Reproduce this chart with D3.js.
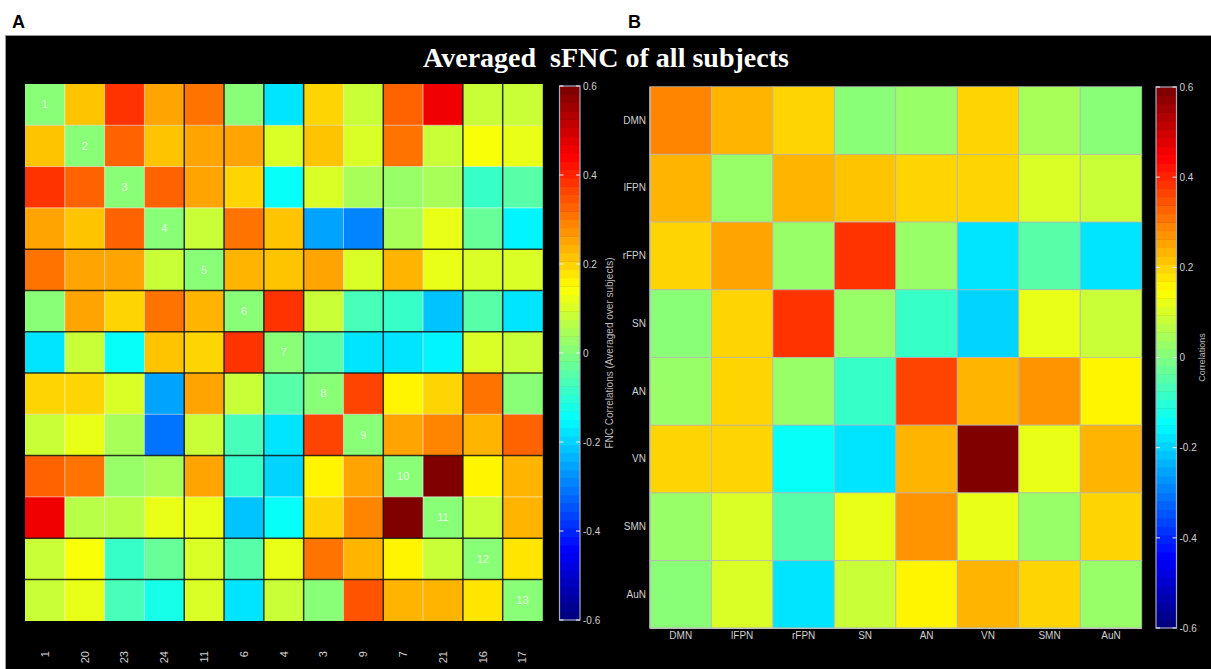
<!DOCTYPE html>
<html>
<head>
<meta charset="utf-8">
<script src="https://cdn.jsdelivr.net/npm/d3@7"></script>
<style>
  html, body { margin: 0; padding: 0; background: #fff; }
  svg { display: block; }
</style>
</head>
<body>
<svg id="chart" width="1211" height="669"></svg>
<script>
// ---------------- DATA ----------------
const componentLabels = ["1","20","23","24","11","6","4","3","9","7","21","16","17"];
// network index of each component (DMN, lFPN, rFPN, SN, AN, VN, SMN, AuN)
const componentNetwork = [0,0,0,0,1,2,3,4,4,5,5,6,7];
const diagLabels = ["1","2","3","4","5","6","7","8","9","10","11","12","13"];

const componentFNC = [
  [0.01, 0.22, 0.39, 0.26, 0.30, 0.01,-0.18, 0.20, 0.08, 0.32, 0.45, 0.075, 0.075],
  [0.22, 0.01, 0.32, 0.22, 0.26, 0.26, 0.10, 0.21, 0.11, 0.31, 0.075, 0.15, 0.12],
  [0.39, 0.32, 0.01, 0.32, 0.26, 0.20,-0.15, 0.11, 0.05, 0.03, 0.05,-0.075,-0.04],
  [0.26, 0.22, 0.32, 0.01, 0.075, 0.31, 0.21,-0.25,-0.29, 0.05, 0.12,-0.02,-0.16],
  [0.31, 0.26, 0.26, 0.075, 0.01, 0.24, 0.21, 0.26, 0.10, 0.24, 0.12, 0.10, 0.10],
  [0.01, 0.26, 0.20, 0.31, 0.24, 0.01, 0.39, 0.09,-0.06,-0.09,-0.22,-0.04,-0.17],
  [-0.17, 0.09,-0.15, 0.21, 0.20, 0.39, 0.01,-0.05,-0.17,-0.18,-0.16, 0.11, 0.075],
  [0.19, 0.19, 0.11,-0.25, 0.26, 0.09,-0.04, 0.01, 0.37, 0.16, 0.19, 0.30, 0.00],
  [0.09, 0.12, 0.04,-0.30, 0.09,-0.06,-0.17, 0.37, 0.01, 0.26, 0.29, 0.24, 0.33],
  [0.33, 0.31, 0.03, 0.05, 0.25,-0.09,-0.19, 0.16, 0.26, 0.01, 0.60, 0.16, 0.23],
  [0.45, 0.06, 0.06, 0.12, 0.13,-0.21,-0.15, 0.19, 0.29, 0.60, 0.01, 0.075, 0.23],
  [0.075, 0.15,-0.075,-0.02, 0.11,-0.04, 0.13, 0.31, 0.24, 0.16, 0.075, 0.01, 0.18],
  [0.075, 0.12,-0.06,-0.13, 0.10,-0.17, 0.075, 0.00, 0.34, 0.23, 0.23, 0.18, 0.01]
];

const networkLabels = ["DMN","lFPN","rFPN","SN","AN","VN","SMN","AuN"];
const networkFNC = [
  [0.29, 0.23, 0.19, 0.00, 0.03, 0.19, 0.04, 0.01],
  [0.24, 0.02, 0.24, 0.22, 0.20, 0.20, 0.11, 0.09],
  [0.19, 0.25, 0.02, 0.39, 0.02,-0.17,-0.04,-0.17],
  [0.00, 0.20, 0.39, 0.02,-0.09,-0.19, 0.13, 0.075],
  [0.02, 0.19, 0.02,-0.09, 0.37, 0.23, 0.27, 0.16],
  [0.19, 0.19,-0.15,-0.18, 0.23, 0.60, 0.12, 0.23],
  [0.03, 0.11,-0.04, 0.13, 0.28, 0.13, 0.02, 0.19],
  [0.01, 0.10,-0.17, 0.075, 0.16, 0.23, 0.19, 0.02]
];

const colorTicks = [-0.6, -0.4, -0.2, 0, 0.2, 0.4, 0.6];
const colorTickLabels = ["-0.6","-0.4","-0.2","0","0.2","0.4","0.6"];
const colorDomain = [-0.6, 0.6];

// ---------------- HELPERS ----------------
function jet(t) {
  const c = v => Math.max(0, Math.min(1, v));
  const r = c(1.5 - Math.abs(4 * t - 3));
  const g = c(1.5 - Math.abs(4 * t - 2));
  const b = c(1.5 - Math.abs(4 * t - 1));
  return d3.rgb(r * 255, g * 255, b * 255).formatHex();
}
const nLevels = 64;
const jetColors = d3.range(nLevels).map(i => jet(i / (nLevels - 1)));
const color = d3.scaleQuantize().domain(colorDomain).range(jetColors);

const svg = d3.select("#chart");
const tickColor = "#d0d0d0";
const sans = "'Liberation Sans', Arial, sans-serif";

// panel letters
svg.append("text").attr("x", 12).attr("y", 28).text("A")
  .attr("font-family", sans).attr("font-weight", "bold").attr("font-size", 18).attr("fill", "#000");
svg.append("text").attr("x", 628).attr("y", 28).text("B")
  .attr("font-family", sans).attr("font-weight", "bold").attr("font-size", 18).attr("fill", "#000");

// black panel
svg.append("rect").attr("x", 5.5).attr("y", 35.5).attr("width", 1210).attr("height", 640)
  .attr("fill", "#000").attr("stroke", "#999").attr("stroke-width", 1);

// title
svg.append("text").attr("x", 606).attr("y", 67).attr("text-anchor", "middle")
  .attr("font-family", "'Liberation Serif', 'Times New Roman', serif").attr("font-weight", "bold")
  .attr("font-size", 28).attr("fill", "#fff").attr("xml:space", "preserve")
  .text("Averaged  sFNC of all subjects");

// ---------------- colorbar ----------------
function colorbar(x0, width, yTop, yBot, label, labelX, labelSize) {
  const y = d3.scaleLinear().domain(colorDomain).range([yBot, yTop]);
  const g = svg.append("g");
  const step = (colorDomain[1] - colorDomain[0]) / nLevels;
  g.selectAll("rect.lvl").data(jetColors).join("rect")
    .attr("x", x0).attr("width", width)
    .attr("y", (d, i) => y(colorDomain[0] + (i + 1) * step))
    .attr("height", (d, i) => y(colorDomain[0] + i * step) - y(colorDomain[0] + (i + 1) * step) + 0.5)
    .attr("fill", d => d);
  g.append("rect").attr("x", x0).attr("y", yTop).attr("width", width).attr("height", yBot - yTop)
    .attr("fill", "none").attr("stroke", "#a8a8c0").attr("stroke-width", 1.2);
  const axis = d3.axisRight(y).tickValues(colorTicks).tickSize(0).tickPadding(3)
    .tickFormat((d, i) => colorTickLabels[i]);
  const ga = g.append("g").attr("transform", `translate(${x0 + width},0)`).call(axis);
  ga.select(".domain").remove();
  ga.selectAll("text").attr("fill", tickColor).attr("font-family", sans).attr("font-size", 10);
  // small dashes inside the bar at both edges
  colorTicks.forEach(v => {
    g.append("line").attr("x1", x0).attr("x2", x0 + 4).attr("y1", y(v)).attr("y2", y(v))
      .attr("stroke", "#eee").attr("stroke-width", 1);
    g.append("line").attr("x1", x0 + width - 4).attr("x2", x0 + width).attr("y1", y(v)).attr("y2", y(v))
      .attr("stroke", "#eee").attr("stroke-width", 1);
  });
  g.append("text").attr("transform", `translate(${labelX},${y(0)}) rotate(-90)`)
    .attr("text-anchor", "middle").attr("dy", "0.35em")
    .attr("font-family", sans).attr("font-size", labelSize).attr("fill", "#bbb").text(label);
}

// ---------------- Panel A ----------------
const ax = d3.scaleBand().domain(d3.range(componentLabels.length)).range([25, 542.5]);
const ay = d3.scaleBand().domain(d3.range(componentLabels.length)).range([84, 620.7]);
const gA = svg.append("g");
componentFNC.forEach((row, i) => {
  gA.selectAll(null).data(row).join("rect")
    .attr("x", (d, j) => ax(j)).attr("y", ay(i))
    .attr("width", ax.bandwidth() + 0.3).attr("height", ay.bandwidth() + 0.3)
    .attr("fill", d => color(d));
});
// grid lines: white inside a network, black between networks
const n = componentLabels.length;
const within = d3.range(1, n).filter(k => componentNetwork[k] === componentNetwork[k - 1]);
const between = d3.range(1, n).filter(k => componentNetwork[k] !== componentNetwork[k - 1]);
within.forEach(k => {
  gA.append("line").attr("x1", ax(k)).attr("x2", ax(k)).attr("y1", ay(0)).attr("y2", ay(n - 1) + ay.bandwidth())
    .attr("stroke", "rgba(255,255,255,0.55)").attr("stroke-width", 1);
  gA.append("line").attr("y1", ay(k)).attr("y2", ay(k)).attr("x1", ax(0)).attr("x2", ax(n - 1) + ax.bandwidth())
    .attr("stroke", "rgba(255,255,255,0.55)").attr("stroke-width", 1);
});
between.forEach(k => {
  gA.append("line").attr("x1", ax(k)).attr("x2", ax(k)).attr("y1", ay(0)).attr("y2", ay(n - 1) + ay.bandwidth())
    .attr("stroke", "rgba(20,20,20,0.85)").attr("stroke-width", 1.5);
  gA.append("line").attr("y1", ay(k)).attr("y2", ay(k)).attr("x1", ax(0)).attr("x2", ax(n - 1) + ax.bandwidth())
    .attr("stroke", "rgba(20,20,20,0.85)").attr("stroke-width", 1.5);
});
// diagonal numbers
gA.selectAll("text.diag").data(diagLabels).join("text")
  .attr("x", (d, i) => ax(i) + ax.bandwidth() / 2).attr("y", (d, i) => ay(i) + ay.bandwidth() / 2)
  .attr("dy", "0.35em").attr("text-anchor", "middle")
  .attr("font-family", sans).attr("font-size", 11).attr("fill", "rgba(255,255,255,0.8)").text(d => d);
// x labels (rotated)
gA.selectAll("text.xl").data(componentLabels).join("text")
  .attr("transform", (d, i) => `translate(${ax(i) + ax.bandwidth() / 2},651) rotate(-90)`)
  .attr("text-anchor", "end").attr("dy", "0.35em")
  .attr("font-family", sans).attr("font-size", 11).attr("fill", tickColor).text(d => d);

colorbar(559.5, 20.5, 86, 620, "FNC Correlations (Averaged over subjects)", 609, 10);

// ---------------- Panel B ----------------
const bx = d3.scaleBand().domain(networkLabels).range([650, 1141.7]);
const by = d3.scaleBand().domain(networkLabels).range([86.7, 628.3]);
const gB = svg.append("g");
networkFNC.forEach((row, i) => {
  gB.selectAll(null).data(row).join("rect")
    .attr("x", (d, j) => bx(networkLabels[j])).attr("y", by(networkLabels[i]))
    .attr("width", bx.bandwidth()).attr("height", by.bandwidth())
    .attr("fill", d => color(d)).attr("stroke", "rgba(190,190,190,0.7)").attr("stroke-width", 1);
});
gB.append("line").attr("x1", 650).attr("x2", 650).attr("y1", 86.7).attr("y2", 628.3)
  .attr("stroke", "#bbb").attr("stroke-width", 1.5);
gB.append("line").attr("x1", 650).attr("x2", 1141.7).attr("y1", 628.3).attr("y2", 628.3)
  .attr("stroke", "#bbb").attr("stroke-width", 1.5);
const ayB = d3.axisLeft(by).tickSize(0).tickPadding(4);
const gya = gB.append("g").attr("transform", "translate(650,0)").call(ayB);
gya.select(".domain").remove();
gya.selectAll("text").attr("fill", tickColor).attr("font-family", sans).attr("font-size", 10);
const axB = d3.axisBottom(bx).tickSize(0).tickPadding(4);
const gxa = gB.append("g").attr("transform", "translate(0,628.3)").call(axB);
gxa.select(".domain").remove();
gxa.selectAll("text").attr("fill", tickColor).attr("font-family", sans).attr("font-size", 10);

colorbar(1156, 20.5, 87, 628, "Correlations", 1202, 9);
</script>
</body>
</html>
